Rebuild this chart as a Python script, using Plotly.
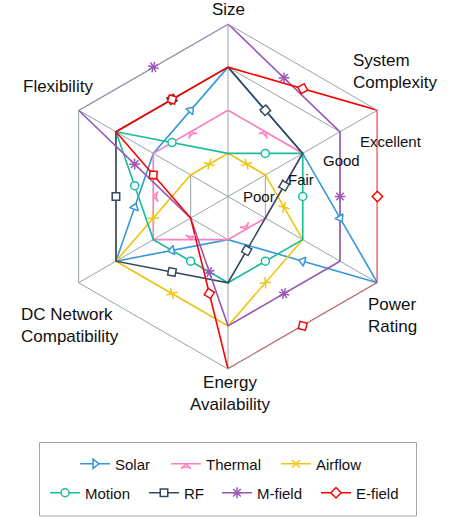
import math
import plotly.graph_objects as go

# ---------------- data ----------------
categories = ["Size", "System Complexity", "Power Rating",
              "Energy Availability", "DC Network Compatibility", "Flexibility"]
axis_labels = ["Size", "System<br>Complexity", "Power<br>Rating",
               "Energy<br>Availability", "DC Network<br>Compatibility", "Flexibility"]
level_labels = ["Poor", "Fair", "Good", "Excellent"]
level_values = [1, 2, 3, 4]

series_names = ["Solar", "Thermal", "Airflow", "Motion", "RF", "M-field", "E-field"]
solar = [3, 2, 4, 1, 3, 2]
thermal = [2, 2, 1, 1, 2, 2]
airflow = [1, 1, 2, 3, 3, 1]
motion = [1, 2, 2, 2, 2, 3]
rf = [3, 2, 1, 2, 3, 3]
m_field = [4, 3, 3, 3, 1, 4]
e_field = [3, 4, 4, 4, 1, 3]
series_values = [solar, thermal, airflow, motion, rf, m_field, e_field]

# ---------------- styles ----------------
colors = ["#3498db", "#ff7fbf", "#f1c40f", "#1abc9c", "#34495e", "#9b59b6", "#ff0000"]
symbols = ["triangle-right", "arrow-wide", "x-thin-open", "circle", "square", "asterisk-open", "diamond"]
sizes = [8, 7, 8, 8, 7.5, 9, 8]
grid = "#95a5a6"
font_family = "Liberation Sans, Arial, sans-serif"
text_color = "#111111"

W, H = 456, 518
cx, cy, R = 228.0, 196.5, 172.5
domain_x = [(cx - R) / W, (cx + R) / W]
domain_y = [1 - (cy + R) / H, 1 - (cy - R) / H]

# legend item layout (px): sample-start x, row centre y
legend_slots = [(85, 464), (176, 464), (286, 464),
                (55, 493), (154, 493), (227, 493), (326, 493)]

n = len(categories)
step = 360.0 / n


def to_xy(r, idx):
    a = math.radians(idx * step)  # clockwise from top
    return r * math.sin(a), r * math.cos(a)


def midpoints(vals):
    rs, ths, angs = [], [], []
    for i in range(n):
        j = (i + 1) % n
        x1, y1 = to_xy(vals[i], i)
        x2, y2 = to_xy(vals[j], j)
        xm, ym = (x1 + x2) / 2, (y1 + y2) / 2
        rs.append(math.hypot(xm, ym))
        ths.append(math.degrees(math.atan2(xm, ym)) % 360)
        angs.append(math.degrees(math.atan2(-(y2 - y1), x2 - x1)))
    return rs, ths, angs


fig = go.Figure()

for k, (name, vals) in enumerate(zip(series_names, series_values)):
    col = colors[k]
    fig.add_trace(go.Scatterpolar(
        r=vals + vals[:1], theta=categories + categories[:1], mode="lines",
        subplot="polar", line=dict(color=col, width=1.6),
        showlegend=False, hoverinfo="skip"))

for k, (name, vals) in enumerate(zip(series_names, series_values)):
    col = colors[k]
    rs, ths, angs = midpoints(vals)
    open_sym = symbols[k].endswith("-open")
    mk = dict(symbol=symbols[k], size=sizes[k], angle=angs,
              color=col if open_sym else "white",
              line=dict(color=col, width=1.5))
    fig.add_trace(go.Scatterpolar(
        r=rs, theta=ths, mode="markers", subplot="polar2",
        marker=mk, showlegend=False, hoverinfo="skip"))

# legend entries, one legend per entry so each can sit in its own slot
legend_layouts = {}
for k, name in enumerate(series_names):
    col = colors[k]
    open_sym = symbols[k].endswith("-open")
    lname = "legend" if k == 0 else "legend%d" % (k + 1)
    fig.add_trace(go.Scatterpolar(
        r=[None], theta=[None], mode="lines+markers", subplot="polar2", name=name,
        line=dict(color=col, width=1.6),
        marker=dict(symbol=symbols[k], size=sizes[k],
                    color=col if open_sym else "white",
                    line=dict(color=col, width=1.5)),
        legend=lname))
    sx, sy = legend_slots[k]
    legend_layouts[lname] = dict(
        x=(sx - 10) / W, y=1 - sy / H, xanchor="left", yanchor="middle",
        orientation="h", bgcolor="rgba(0,0,0,0)", borderwidth=0,
        font=dict(size=15, family=font_family, color=text_color))

annotations = []
label_pos = [  # (x px, y px, xanchor, align)
    (229, 10, "center", "center"),
    (351, 71, "left", "left"),
    (366, 315, "left", "left"),
    (230, 393, "center", "center"),
    (19, 325, "left", "left"),
    (21, 86, "left", "left"),
]
for lab, (x, y, xa, al) in zip(axis_labels, label_pos):
    annotations.append(dict(text=lab, x=x / W, y=1 - y / H, xref="paper", yref="paper",
                            xanchor=xa, yanchor="middle", align=al, showarrow=False,
                            font=dict(size=17, family=font_family, color=text_color)))
level_pos = [(259, 196), (301, 180), (341, 160), (391, 141)]
for lab, (x, y) in zip(level_labels, level_pos):
    annotations.append(dict(text=lab, x=x / W, y=1 - y / H, xref="paper", yref="paper",
                            xanchor="center", yanchor="middle", showarrow=False,
                            font=dict(size=15, family=font_family, color=text_color)))

fig.update_layout(
    width=W, height=H, margin=dict(l=0, r=0, t=0, b=0),
    paper_bgcolor="white", plot_bgcolor="white",
    polar=dict(
        domain=dict(x=domain_x, y=domain_y), gridshape="linear", bgcolor="white",
        radialaxis=dict(range=[0, 4], tickvals=level_values, showticklabels=False,
                        ticks="", showline=False, gridcolor=grid, gridwidth=1),
        angularaxis=dict(rotation=90, direction="clockwise", showticklabels=False,
                         ticks="", gridcolor=grid, gridwidth=1, showline=True,
                         linecolor=grid, linewidth=1)),
    polar2=dict(
        domain=dict(x=domain_x, y=domain_y), bgcolor="rgba(0,0,0,0)",
        radialaxis=dict(range=[0, 4], visible=False),
        angularaxis=dict(type="linear", thetaunit="degrees", rotation=90,
                         direction="clockwise", visible=False)),
    annotations=annotations,
    shapes=[dict(type="rect", xref="paper", yref="paper",
                 x0=39.5 / W, x1=416.5 / W, y0=1 - 516 / H, y1=1 - 442.5 / H,
                 line=dict(color="#a6a6a6", width=1), fillcolor="rgba(0,0,0,0)")],
    showlegend=True,
    **legend_layouts,
)

fig.write_html("out.html", config={"displayModeBar": False},
               post_script="document.body.style.margin='0';document.body.style.overflow='hidden';")
